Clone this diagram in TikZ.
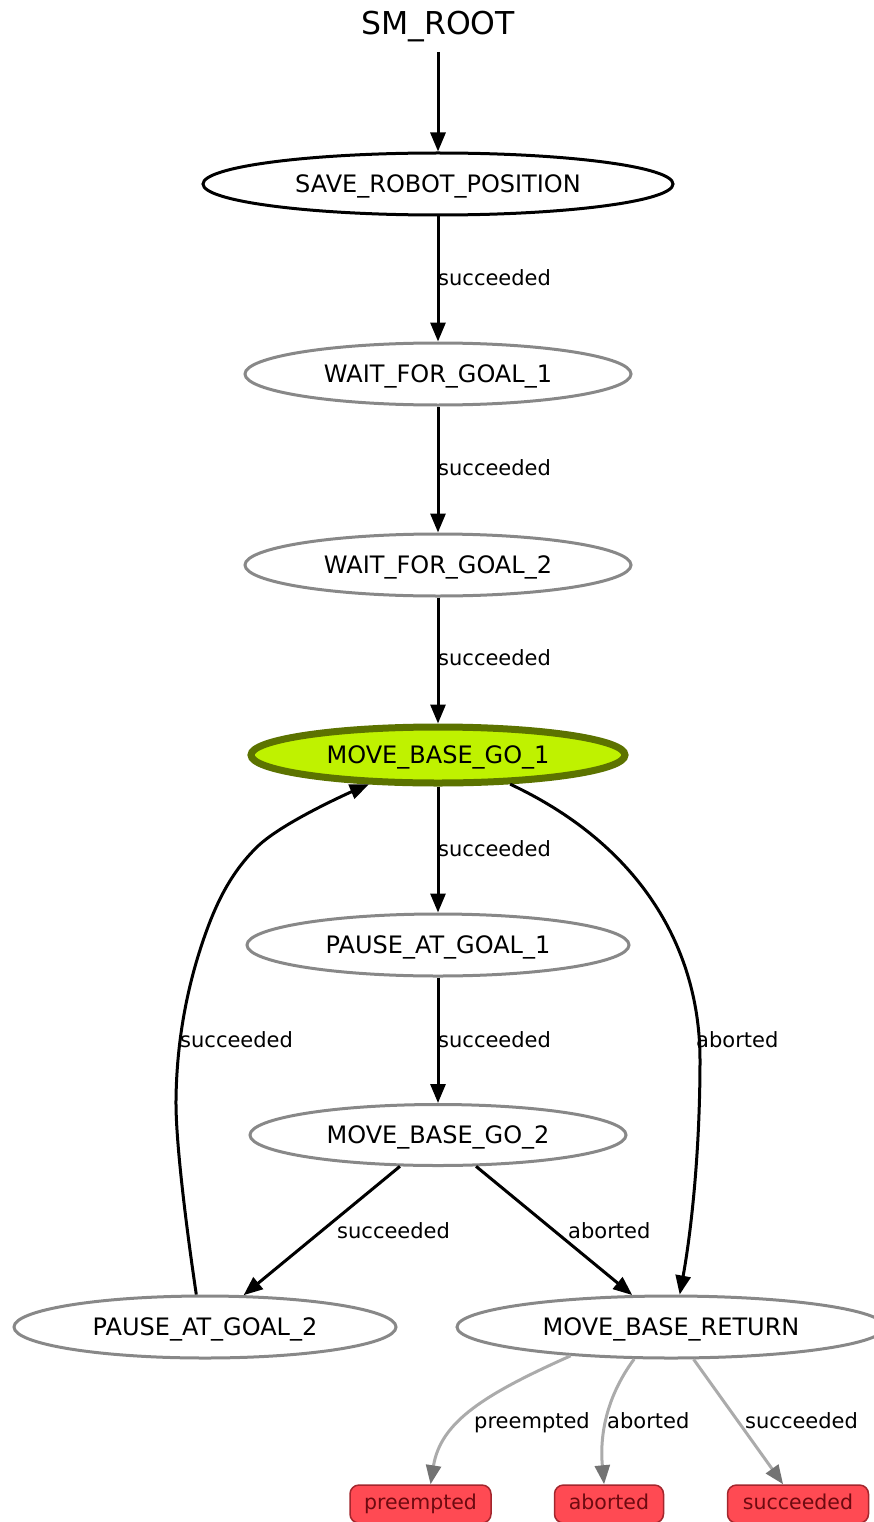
\documentclass[tikz,border=0pt]{standalone}
\usepackage{fontspec}
\setmainfont{DejaVu Sans}
\usetikzlibrary{shapes.geometric,arrows.meta}

\definecolor{stategray}{HTML}{888888}
\definecolor{activefill}{HTML}{BFF200}
\definecolor{activedraw}{HTML}{5C7300}
\definecolor{outfill}{HTML}{FF4A53}
\definecolor{outdraw}{HTML}{A3262D}
\definecolor{outtext}{HTML}{6E0A10}
\definecolor{faintedge}{HTML}{ABABAB}
\definecolor{fainttip}{HTML}{737373}

\tikzset{
  state/.style={ellipse, draw=stategray, line width=3pt, inner sep=0pt,
    font=\fontsize{24}{28}\selectfont, text height=17.5pt, text depth=0pt},
  outcome/.style={rectangle, rounded corners=9pt, fill=outfill, draw=outdraw,
    line width=1.5pt, minimum height=38pt, inner sep=0pt, text=outtext,
    font=\fontsize{20.5}{24}\selectfont, text height=15pt, text depth=4pt},
  trans/.style={line width=3pt, -{Triangle[length=19pt,width=15pt]}},
  faint/.style={line width=3pt, draw=faintedge,
    -{Triangle[length=19pt,width=15pt,color=fainttip]}},
  lbl/.style={anchor=west, inner sep=0pt, font=\fontsize{21}{25}\selectfont,
    text height=15.5pt, text depth=0pt}
}

\begin{document}
\begin{tikzpicture}[x=1pt,y=-1pt]
\useasboundingbox (0,0) rectangle (874,1522);

% container title (depth keeps the first arrow clear of the text)
\node[inner sep=0pt, font=\fontsize{31.5}{36}\selectfont, text height=23pt, text depth=17pt] (root) at (438,31.75) {SM\_ROOT};

% states
\node[state, draw=black, minimum width=470pt, minimum height=62pt] (save) at (438,184) {SAVE\_ROBOT\_POSITION};
\node[state, minimum width=386pt, minimum height=62pt] (wait1) at (438,374) {WAIT\_FOR\_GOAL\_1};
\node[state, minimum width=386pt, minimum height=62pt] (wait2) at (438,565) {WAIT\_FOR\_GOAL\_2};
\node[state, draw=activedraw, fill=activefill, line width=7pt, minimum width=374pt, minimum height=56pt] (go1) at (438,755) {MOVE\_BASE\_GO\_1};
\node[state, minimum width=382pt, minimum height=62pt] (pause1) at (438,945) {PAUSE\_AT\_GOAL\_1};
\node[state, minimum width=376pt, minimum height=61pt] (go2) at (438,1135) {MOVE\_BASE\_GO\_2};
\node[state, minimum width=382pt, minimum height=62pt] (pause2) at (205,1327) {PAUSE\_AT\_GOAL\_2};
\node[state, minimum width=428pt, minimum height=62pt] (ret) at (671,1327) {MOVE\_BASE\_RETURN};

% outcomes
\node[outcome, minimum width=141pt] (opre) at (420.5,1504) {preempted};
\node[outcome, minimum width=109pt] (oabo) at (609,1504) {aborted};
\node[outcome, minimum width=141pt] (osuc) at (798,1504) {succeeded};

% straight transitions
\draw[trans] (root) -- (save);
\draw[trans] (save) -- (wait1);
\draw[trans] (wait1) -- (wait2);
\draw[trans] (wait2) -- (go1);
\draw[trans] (go1) -- (pause1);
\draw[trans] (pause1) -- (go2);
\draw[trans] (go2) -- (pause2);
\draw[trans] (go2) -- (ret);

% long curved transitions
\coordinate (rmid) at (700,1060);
\draw[trans] (go1.-22) .. controls +(132,62) and +(0,-110) .. (rmid)
  .. controls +(0,100) and +(10,-54) .. (ret.75);

\coordinate (lw1) at (176,1100);
\coordinate (lw2) at (200,950);
\coordinate (lw3) at (257,847);
\draw[trans] plot[smooth, tension=0.6] coordinates
  {(pause2.105) (lw1) (lw2) (lw3) (go1.-157)};

% outcome transitions
\draw[faint] (ret.196) .. controls +(-85,38) and +(10,-63) .. (opre.63);
\draw[faint] (ret.221) .. controls +(-31,42) and +(-4,-43) .. (oabo.104);
\draw[faint] (ret.-55) -- (osuc.127);

% transition labels
\node[lbl] (l1) at (438,278) {succeeded};
\node[lbl] (l2) at (438,468) {succeeded};
\node[lbl] (l3) at (438,658) {succeeded};
\node[lbl] (l4) at (438,849) {succeeded};
\node[lbl] (l5) at (438,1040) {succeeded};
\node[lbl] (l6) at (180,1040) {succeeded};
\node[lbl] (l7) at (696,1040) {aborted};
\node[lbl] (l8) at (337,1231) {succeeded};
\node[lbl] (l9) at (568,1231) {aborted};
\node[lbl] (l10) at (474,1421) {preempted};
\node[lbl] (l11) at (607,1421) {aborted};
\node[lbl] (l12) at (745,1421) {succeeded};
\end{tikzpicture}
\end{document}
